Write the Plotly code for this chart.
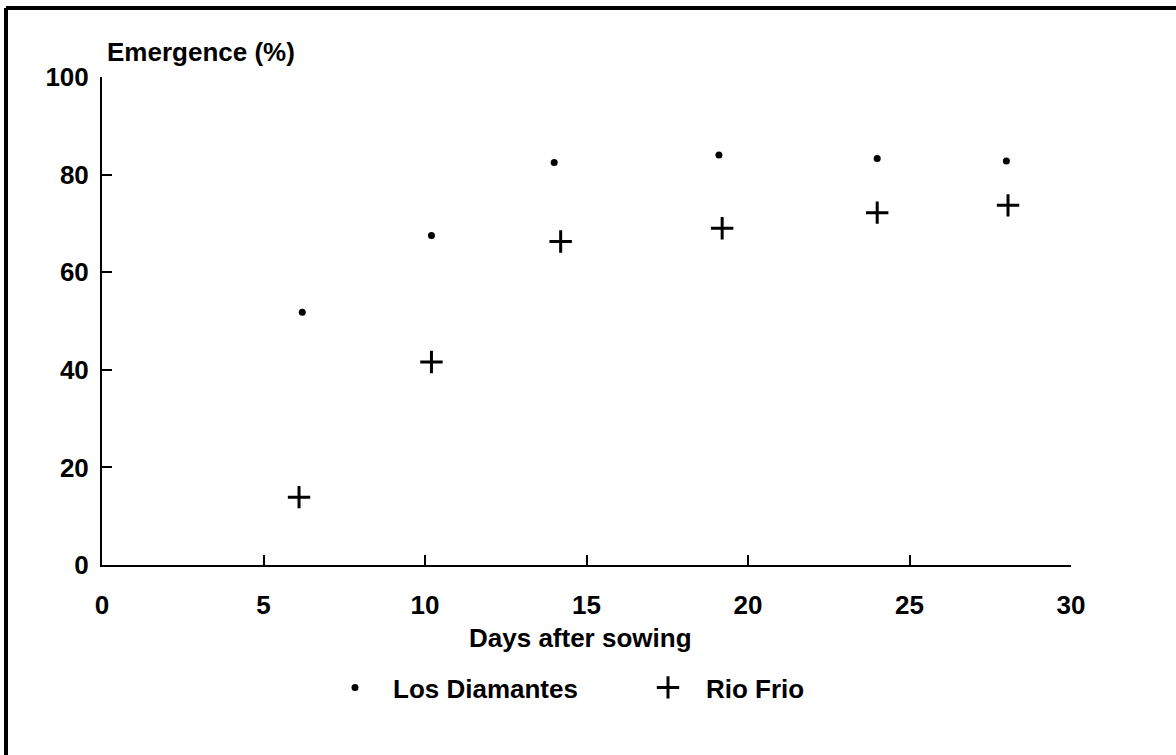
import plotly.graph_objects as go

days_ld = [6.2, 10.2, 14.0, 19.1, 24.0, 28.0]
los_diamantes = [51.8, 67.5, 82.5, 84.0, 83.3, 82.8]
days_rf = [6.1, 10.2, 14.2, 19.2, 24.0, 28.05]
rio_frio = [13.9, 41.6, 66.3, 69.0, 72.2, 73.7]
series_names = ["Los Diamantes", "Rio Frio"]
x_ticks = [0, 5, 10, 15, 20, 25, 30]
y_ticks = [0, 20, 40, 60, 80, 100]

W, H = 1176, 755
L, R, T, B = 102, 105, 77, 190
pw, ph = W - L - R, H - T - B

def px_x(p):
    return (p - L) / pw

def px_y(p):
    return (H - B - p) / ph

FONT = "Liberation Sans"
FS = 26

fig = go.Figure()
fig.add_trace(go.Scatter(
    x=days_ld, y=los_diamantes, mode="markers", name=series_names[0],
    marker=dict(symbol="circle", size=7, color="black"),
))
fig.add_trace(go.Scatter(
    x=days_rf, y=rio_frio, mode="markers", name=series_names[1],
    marker=dict(symbol="cross-thin", size=16, color="black",
                line=dict(width=3, color="black")),
))

axis_common = dict(
    showgrid=False, zeroline=False, showline=True, linecolor="black",
    linewidth=2, ticks="inside", tickcolor="black", tickwidth=2,
    ticklen=10, tickfont=dict(family=FONT, size=FS, color="black",
                              weight="bold"),
)
fig.update_xaxes(range=[0, 30], tickvals=x_ticks, ticklabelstandoff=16,
                 **axis_common)
fig.update_yaxes(range=[0, 100], tickvals=y_ticks, ticklabelstandoff=6,
                 **axis_common)

fig.add_annotation(text="Emergence (%)", xref="paper", yref="paper",
                   x=px_x(105), y=px_y(52), xanchor="left", yanchor="middle",
                   showarrow=False,
                   font=dict(family=FONT, size=FS, color="black", weight="bold"))
fig.add_annotation(text="Days after sowing", xref="paper", yref="paper",
                   x=px_x(580), y=px_y(638), xanchor="center", yanchor="middle",
                   showarrow=False,
                   font=dict(family=FONT, size=FS, color="black", weight="bold"))

# page frame (top and left edges visible)
fig.add_shape(type="line", xref="paper", yref="paper",
              x0=px_x(6), x1=px_x(1176), y0=px_y(8), y1=px_y(8),
              line=dict(color="black", width=4))
fig.add_shape(type="line", xref="paper", yref="paper",
              x0=px_x(6), x1=px_x(6), y0=px_y(8), y1=px_y(755),
              line=dict(color="black", width=4))

fig.update_layout(
    width=W, height=H,
    margin=dict(l=L, r=R, t=T, b=B),
    paper_bgcolor="white", plot_bgcolor="white",
    showlegend=True,
    legend=dict(orientation="h", x=px_x(317), y=px_y(664),
                xanchor="left", yanchor="top",
                itemwidth=66,
                entrywidth=232, entrywidthmode="pixels",
                font=dict(family=FONT, size=FS, color="black", weight="bold"),
                bgcolor="rgba(0,0,0,0)"),
)

fig.write_html("out.html", config={"displayModeBar": False},
               post_script="document.body.style.margin='0';document.body.style.padding='0';")
